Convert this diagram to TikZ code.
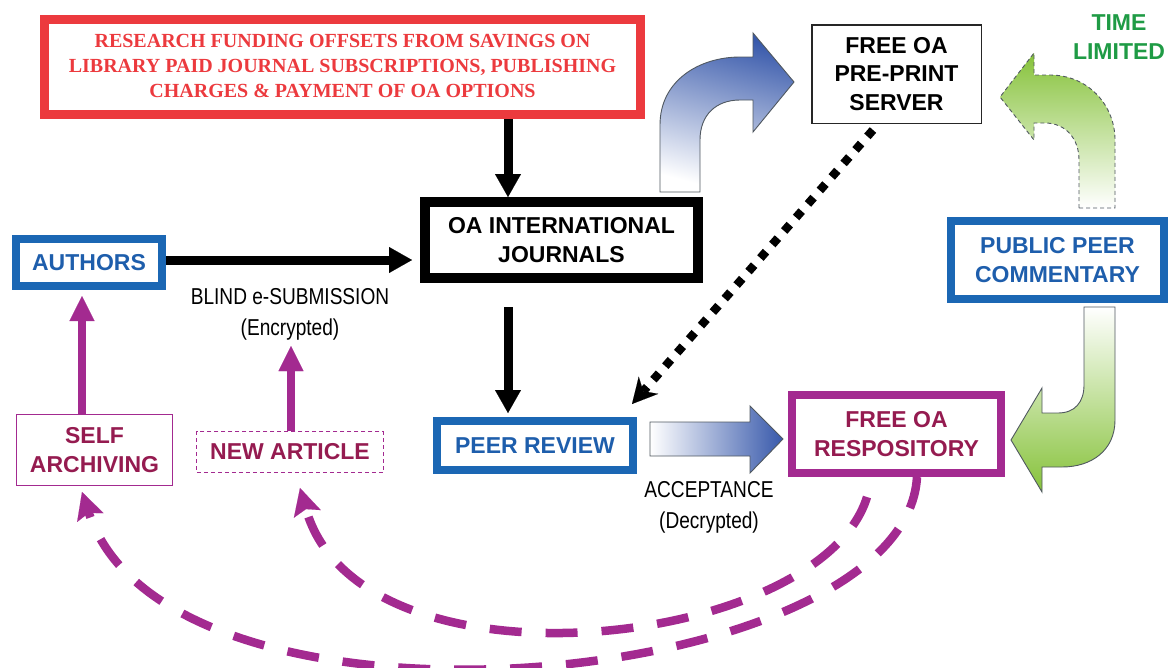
\documentclass[tikz,border=0pt]{standalone}
\usepackage{fontspec}
\setmainfont{Liberation Sans}
\newfontfamily\tnr{Liberation Serif}
\usepackage{graphicx}
\usetikzlibrary{arrows.meta}
\definecolor{cblue}{HTML}{1B67B4}
\definecolor{ctblue}{HTML}{1E5EAC}
\definecolor{cmag}{HTML}{A32A90}
\definecolor{ccrim}{HTML}{951B50}
\definecolor{cred}{HTML}{EC3A3E}
\definecolor{cgreen}{HTML}{1F9B45}
\definecolor{cgrad}{HTML}{86C23A}
\definecolor{cbgrad}{HTML}{3859AB}
\definecolor{cedge}{HTML}{505860}
\newcommand{\nar}[1]{\scalebox{0.83}[1]{#1}}
\begin{document}
\begin{tikzpicture}[x=1pt,y=-1pt,
  box/.style={rectangle, inner sep=0pt, align=center, fill=white},
  bigfont/.style={font=\bfseries\fontsize{23}{28.5}\selectfont},
  redbox/.style={box, draw=cred, line width=9pt, text=cred},
  blkbox/.style={box, bigfont, draw=black, line width=10pt, text=black},
  bluebox/.style={box, bigfont, draw=cblue, line width=8pt, text=ctblue},
  thinbox/.style={box, bigfont, draw=black!85, line width=1.5pt, text=black},
  magbox/.style={box, bigfont, draw=cmag, line width=8pt, text=ccrim},
  magthin/.style={box, bigfont, draw=cmag, line width=1.4pt, text=ccrim},
  lbl/.style={align=center, inner sep=0pt, font=\fontsize{23}{31}\selectfont},
  blk/.style={line width=9pt, -{Triangle[length=23pt,width=26pt,line width=0.1pt]}},
  magarrow/.style={draw=cmag, line width=7.5pt, -{Triangle[length=25pt,width=25pt,line width=0.1pt]}},
  magdash/.style={draw=cmag, line width=8.5pt, dash pattern=on 32pt off 24pt,
     -{Stealth[length=27pt,width=28pt,inset=5pt,line width=0.1pt]}},
  dotarrow/.style={line width=8.5pt, dash pattern=on 8.5pt off 9.5pt,
     -{Stealth[length=25pt,width=26pt,inset=8pt,line width=0.1pt]}},
  gedge/.style={draw=cedge, line width=0.9pt}
]
\useasboundingbox (0,0) rectangle (1170,667);

% ---------- nodes ----------
\node[redbox, minimum width=596pt, minimum height=95pt] (fund) at (342.5,67)
  {\raisebox{5pt}{\tnr\bfseries\fontsize{20}{25}\selectfont
   \begin{tabular}{@{}c@{}}RESEARCH FUNDING OFFSETS FROM SAVINGS ON\\
   LIBRARY PAID JOURNAL SUBSCRIPTIONS, PUBLISHING\\
   CHARGES \& PAYMENT OF OA OPTIONS\end{tabular}}};
\node[blkbox, minimum width=273pt, minimum height=76pt] (oaj) at (561.5,240) {OA INTERNATIONAL\\JOURNALS};
\node[bluebox, minimum width=146pt, minimum height=47pt] (authors) at (89,262.5) {AUTHORS};
\node[bluebox, minimum width=196pt, minimum height=49pt] (peer) at (535,445.5) {PEER REVIEW};
\node[thinbox, minimum width=169.5pt, minimum height=98.5pt] (preprint) at (896.5,74) {FREE OA\\PRE-PRINT\\SERVER};
\node[bluebox, minimum width=213pt, minimum height=78pt] (ppc) at (1057.5,260) {PUBLIC PEER\\COMMENTARY};
\node[magbox, minimum width=209pt, minimum height=78pt] (repo) at (896.5,434) {FREE OA\\RESPOSITORY};
\node[magthin, minimum width=155.5pt, minimum height=70.5pt] (selfarch) at (94.5,450) {SELF\\ARCHIVING};
\node[magthin, dash pattern=on 4pt off 3pt, minimum width=186.5pt, minimum height=40.5pt] (newart) at (290,452) {NEW ARTICLE};
\node[lbl] (blind) at (290,314) {\nar{BLIND e-SUBMISSION}\\\nar{(Encrypted)}};
\node[lbl] (acc) at (709,507) {\nar{ACCEPTANCE}\\\nar{(Decrypted)}};
\node[align=center, inner sep=0pt, text=cgreen, font=\bfseries\fontsize{23}{29}\selectfont] (time) at (1119,37.5) {TIME\\LIMITED};

% ---------- block arrows ----------
% blue curved arrow (journals -> pre-print server)
\shadedraw[top color=cbgrad, bottom color=white, shading angle=-15, gedge]
  (660,192) -- (660,125) .. controls (660,80) and (700,57) .. (740,57) -- (753,57)
  -- (753,33) -- (794,82) -- (753,132) -- (753,100) -- (740,100)
  .. controls (716,100) and (700,115) .. (700,140) -- (700,192) -- cycle;
% blue straight arrow (peer review -> repository)
\shadedraw[left color=white, right color=cbgrad, gedge]
  (650,422) -- (750,422) -- (750,406) -- (783,439) -- (750,473) -- (750,456) -- (650,456) -- cycle;
% green time-limited arrow (dashed outline)
\shade[top color=cgrad, bottom color=white]
  (1079,208) -- (1079,160) .. controls (1079,138) and (1065,123) .. (1045,123) -- (1034,123)
  -- (1034,140) -- (1000,97) -- (1034,53) -- (1034,75) -- (1050,75)
  .. controls (1088,75) and (1115,105) .. (1115,140) -- (1115,208) -- cycle;
\draw[draw=cedge, line width=0.9pt, dash pattern=on 4pt off 3pt]
  (1079,208) -- (1079,160) .. controls (1079,138) and (1065,123) .. (1045,123) -- (1034,123)
  -- (1034,140) -- (1000,97) -- (1034,53) -- (1034,75) -- (1050,75)
  .. controls (1088,75) and (1115,105) .. (1115,140) -- (1115,208) -- cycle;
% green arrow (commentary -> repository)
\shadedraw[top color=white, bottom color=cgrad, gedge]
  (1084,307) -- (1115,307) -- (1115,420) .. controls (1115,450) and (1092,467) .. (1062,467)
  -- (1042,467) -- (1042,492) -- (1011,440) -- (1042,388) -- (1042,413) -- (1058,413)
  .. controls (1075,413) and (1084,402) .. (1084,385) -- cycle;

% ---------- connectors ----------
\draw[blk] ([xshift=165.5pt]fund.south) -- ([xshift=-53.5pt]oaj.north);
\draw[blk, shorten >=8pt] (authors.east |- 0,260) -- (oaj.west |- 0,260);
\draw[blk, shorten >=4pt] ([xshift=-53.5pt,yshift=-24pt]oaj.south) -- ([xshift=-27pt]peer.north);
\draw[dotarrow] ([xshift=-23.5pt,yshift=-6pt]preprint.south) -- ([xshift=-5pt,yshift=13pt]peer.north east);
\draw[magarrow, shorten >=6pt] ([xshift=-12.5pt]selfarch.north) -- ([xshift=-7pt]authors.south);
\draw[magarrow, shorten >=6pt] ([xshift=1pt]newart.north) -- ([xshift=1pt]blind.south);
\draw[magdash] ([xshift=20.5pt]repo.south) .. controls (905,690) and (170,760) .. ([xshift=-12.5pt,yshift=-6pt]selfarch.south);
\draw[magdash] ([xshift=-29.5pt,yshift=-20pt]repo.south) .. controls (820,650) and (360,700) .. ([xshift=10pt,yshift=-15pt]newart.south);
\end{tikzpicture}
\end{document}
